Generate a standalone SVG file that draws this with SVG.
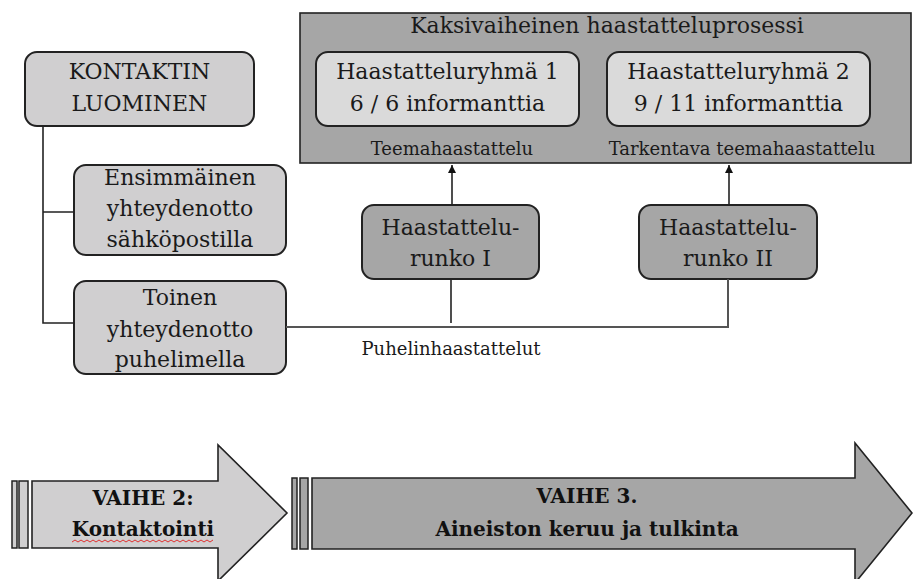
<svg xmlns="http://www.w3.org/2000/svg" width="913" height="579" viewBox="0 0 913 579">
  <defs>
    <marker id="ah" markerUnits="userSpaceOnUse" markerWidth="10" markerHeight="10" refX="8" refY="4" orient="auto">
      <path d="M0,0 L8,4 L0,8 Z" fill="#111"/>
    </marker>
    <style>
      .t { font-family: "DejaVu Serif", "Liberation Serif", serif; font-size: 22px; fill: #1a1a1a; text-anchor: middle; }
      .s { font-family: "DejaVu Serif", "Liberation Serif", serif; font-size: 18px; fill: #1a1a1a; text-anchor: middle; }
      .b { font-family: "DejaVu Serif", "Liberation Serif", serif; font-size: 20px; font-weight: bold; fill: #111; text-anchor: middle; }
      .box { stroke: #222; stroke-width: 2; }
      .light { fill: #d0cfd0; }
      .pale { fill: #dadada; }
      .dark { fill: #a6a6a6; }
      .ln { fill: none; stroke: #222; stroke-width: 1.6; }
    </style>
  </defs>
  <rect width="913" height="579" fill="#ffffff"/>

  <g id="process">
    <rect x="300" y="13" width="611" height="150" class="dark" stroke="#222" stroke-width="1.6"/>
    <text class="t" x="607" y="33">Kaksivaiheinen haastatteluprosessi</text>
    <text class="s" x="452" y="155">Teemahaastattelu</text>
    <text class="s" x="742" y="155">Tarkentava teemahaastattelu</text>
  </g>
  <g id="group1">
    <rect x="316" y="52" width="263" height="74" rx="12" class="box pale"/>
    <text class="t" x="447.5" y="79">Haastatteluryhmä 1</text>
    <text class="t" x="447.5" y="111">6 / 6 informanttia</text>
  </g>
  <g id="group2">
    <rect x="607" y="52" width="263" height="74" rx="12" class="box pale"/>
    <text class="t" x="738.5" y="79">Haastatteluryhmä 2</text>
    <text class="t" x="738.5" y="111">9 / 11 informanttia</text>
  </g>
  <g id="kontakti">
    <rect x="25" y="52" width="229" height="74" rx="12" class="box light"/>
    <text class="t" x="139.5" y="79">KONTAKTIN</text>
    <text class="t" x="139.5" y="111">LUOMINEN</text>
  </g>
  <g id="ensimmainen">
    <rect x="74" y="165" width="212" height="90" rx="12" class="box light"/>
    <text class="t" x="180" y="185">Ensimmäinen</text>
    <text class="t" x="180" y="216">yhteydenotto</text>
    <text class="t" x="180" y="247">sähköpostilla</text>
  </g>
  <g id="toinen">
    <rect x="74" y="281" width="212" height="93" rx="12" class="box light"/>
    <text class="t" x="180" y="305">Toinen</text>
    <text class="t" x="180" y="337">yhteydenotto</text>
    <text class="t" x="180" y="367">puhelimella</text>
  </g>
  <g id="runko1">
    <rect x="362" y="205" width="177" height="74" rx="12" class="box dark"/>
    <text class="t" x="450.5" y="235">Haastattelu-</text>
    <text class="t" x="450.5" y="266">runko I</text>
  </g>
  <g id="runko2">
    <rect x="639" y="205" width="178" height="74" rx="12" class="box dark"/>
    <text class="t" x="728" y="235">Haastattelu-</text>
    <text class="t" x="728" y="266">runko II</text>
  </g>

  <g id="connectors">
    <path class="ln" d="M43,126 V323 H74 M43,212 H74"/>
    <path d="M286,327 H728 V279" fill="none" stroke="#555" stroke-width="2"/>
    <path class="ln" d="M451,323 V279"/>
    <path class="ln" d="M452,205 V165" marker-end="url(#ah)"/>
    <path class="ln" d="M729,205 V165" marker-end="url(#ah)"/>
    <text class="s" x="451" y="355">Puhelinhaastattelut</text>
  </g>

  <g id="vaihe2">
    <rect x="12" y="481" width="5" height="67" class="light" stroke="#222" stroke-width="1.5"/>
    <rect x="19" y="481" width="9" height="67" class="light" stroke="#222" stroke-width="1.5"/>
    <polygon points="32,481 218,481 218,445 287,513 218,581 218,548 32,548" class="light" stroke="#222" stroke-width="1.6"/>
    <text class="b" x="143" y="505">VAIHE 2:</text>
    <text class="b" x="143" y="536">Kontaktointi</text>
    <path d="M72,542 l3,-2 l3,2 l3,-2 l3,2 l3,-2 l3,2 l3,-2 l3,2 l3,-2 l3,2 l3,-2 l3,2 l3,-2 l3,2 l3,-2 l3,2 l3,-2 l3,2 l3,-2 l3,2 l3,-2 l3,2 l3,-2 l3,2 l3,-2 l3,2 l3,-2 l3,2 l3,-2 l3,2 l3,-2 l3,2 l3,-2 l3,2 l3,-2 l3,2 l3,-2 l3,2 l3,-2 l3,2 l3,-2 l3,2 l3,-2 l3,2 l3,-2 l3,2 l3,-2" fill="none" stroke="#e03030" stroke-width="1"/>
  </g>
  <g id="vaihe3">
    <rect x="292" y="478" width="5" height="71" class="dark" stroke="#222" stroke-width="1.5"/>
    <rect x="300" y="478" width="8" height="71" class="dark" stroke="#222" stroke-width="1.5"/>
    <polygon points="312,478 855,478 855,443 912,513 855,583 855,549 312,549" class="dark" stroke="#222" stroke-width="1.6"/>
    <text class="b" x="587" y="503">VAIHE 3.</text>
    <text class="b" x="587" y="536">Aineiston keruu ja tulkinta</text>
  </g>
</svg>
